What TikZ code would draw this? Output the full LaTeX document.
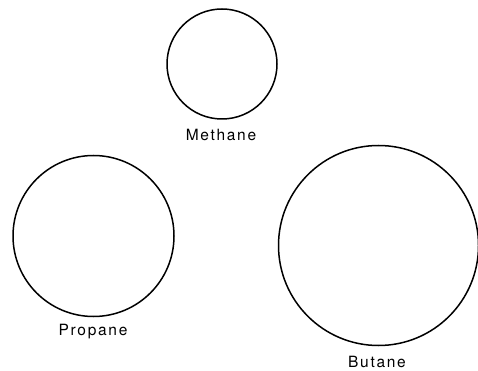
\documentclass[tikz,border=0pt]{standalone}
\usepackage{fontspec}
\setmainfont{TeX Gyre Heros}[LetterSpace=11]
\begin{document}
\begin{tikzpicture}[x=1pt,y=-1pt,
  mol/.style={draw=black,line width=1.5pt,circle,inner sep=0pt},
  lbl/.style={font=\fontsize{15.5}{17}\selectfont,inner sep=0pt,anchor=base}]
\useasboundingbox (0,0) rectangle (478,371);
\node[mol,minimum size=110pt] (methane) at (222,64) {};
\node[lbl] (methanel) at (221,141) {Methane};
\node[mol,minimum size=161pt] (propane) at (93.5,236) {};
\node[lbl] (propanel) at (93,335.5) {Propane};
\node[mol,minimum size=200pt] (butane) at (378.5,245.5) {};
\node[lbl] (butanel) at (377,367) {Butane};
\end{tikzpicture}
\end{document}
